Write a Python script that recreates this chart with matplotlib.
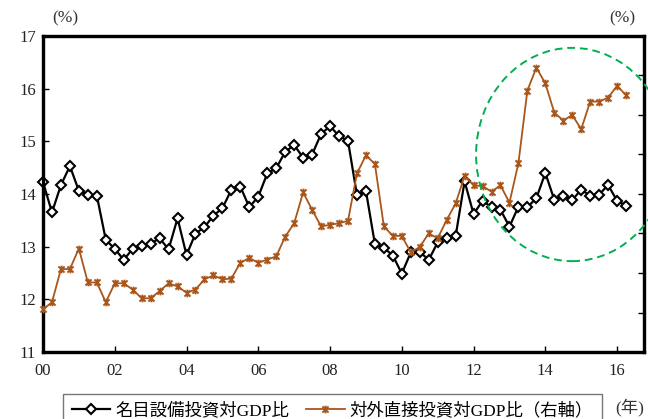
import numpy as np
import matplotlib
matplotlib.use("Agg")
import matplotlib.pyplot as plt
from matplotlib.path import Path
from matplotlib.patches import Ellipse
from matplotlib.lines import Line2D

plt.rcParams['font.family'] = ['Liberation Serif', 'Noto Sans CJK JP']

# Quarterly data, 2000Q1 - 2016Q2
start_year = 2000
capex_gdp = [  # 名目設備投資対GDP比 (left axis, %)
    14.23, 13.65, 14.17, 14.53,
    14.06, 13.99, 13.97, 13.13,
    12.96, 12.75, 12.96, 13.01,
    13.06, 13.16, 12.95, 13.54,
    12.84, 13.25, 13.37, 13.59,
    13.73, 14.08, 14.14, 13.75,
    13.95, 14.39, 14.49, 14.80,
    14.93, 14.69, 14.75, 15.14,
    15.29, 15.10, 15.01, 13.98,
    14.06, 13.05, 12.98, 12.83,
    12.49, 12.89, 12.90, 12.75,
    13.08, 13.17, 13.20, 14.24,
    13.62, 13.87, 13.75, 13.70,
    13.38, 13.76, 13.75, 13.92,
    14.40, 13.89, 13.97, 13.89,
    14.08, 13.97, 13.99, 14.17,
    13.87, 13.78,
]
fdi_gdp = [  # 対外直接投資対GDP比 (right axis)
    5.4, 6.3, 10.5, 10.5,
    13.1, 8.8, 8.8, 6.3,
    8.7, 8.7, 7.9, 6.8,
    6.8, 7.7, 8.7, 8.3,
    7.5, 7.9, 9.2, 9.7,
    9.2, 9.3, 11.3, 11.9,
    11.3, 11.7, 12.1, 14.6,
    16.3, 20.2, 18.0, 15.9,
    16.1, 16.3, 16.6, 22.6,
    24.9, 23.8, 15.9, 14.7,
    14.7, 12.6, 13.3, 15.0,
    14.4, 16.7, 18.8, 22.3,
    21.1, 21.0, 20.3, 21.1,
    18.9, 23.9, 33.1, 36.0,
    34.0, 30.3, 29.3, 30.0,
    28.2, 31.7, 31.7, 32.2,
    33.7, 32.5,
]
tick_years = [2000, 2002, 2004, 2006, 2008, 2010, 2012, 2014, 2016]
tick_labels = ['00', '02', '04', '06', '08', '10', '12', '14', '16']
left_ticks = [11, 12, 13, 14, 15, 16, 17]
right_ticks = [0, 5, 10, 15, 20, 25, 30, 35, 40]

x = start_year + np.arange(len(capex_gdp)) * 0.25

W, H = 648, 419
fig = plt.figure(figsize=(W / 100, H / 100), dpi=100)
ax = fig.add_axes([43 / W, 1 - 352 / H, (644 - 43) / W, (352 - 36) / H])
ax2 = ax.twinx()

orange = '#A9561B'
star = Path([(-1, -1), (1, 1), (-1, 1), (1, -1), (0, -1.25), (0, 1.25)],
            [Path.MOVETO, Path.LINETO, Path.MOVETO, Path.LINETO, Path.MOVETO, Path.LINETO])

l1, = ax.plot(x, capex_gdp, color='black', lw=1.6, marker='D', ms=5.5,
              mfc='white', mec='black', mew=1.5, zorder=3, clip_on=False)
l2, = ax2.plot(x, fdi_gdp, color=orange, lw=1.3, marker=star, ms=5.5,
               mec=orange, mew=1.4, zorder=3, clip_on=False)

ax.set_xlim(2000, 2016.75)
ax.set_ylim(11, 17)
ax2.set_ylim(0, 40)
ax.set_xticks(tick_years)
ax.set_xticklabels(tick_labels)
ax.set_yticks(left_ticks)
ax2.set_yticks(right_ticks)
ax2.set_yticklabels([])

for a in (ax, ax2):
    for s in a.spines.values():
        s.set_linewidth(2.3)
        s.set_color('black')
ax.tick_params(axis='both', direction='in', length=4, width=1, labelsize=12,
               colors='black', labelcolor='#222222')
ax.tick_params(axis='x', pad=8)
ax.tick_params(axis='y', pad=5)
ax2.tick_params(axis='y', direction='in', length=4, width=1)

# highlight of the recent period
ell = Ellipse((2014.75, 14.75), 5.36, 4.05, transform=ax.transData,
              fill=False, ls=(0, (4, 2.5)), lw=1.4, ec='#00B050',
              clip_on=False, zorder=5)
ax2.add_patch(ell)

fig.text(65 / W, 1 - 18 / H, '(%)', ha='center', va='center', fontsize=12.5, color='#333333')
fig.text(622 / W, 1 - 18 / H, '(%)', ha='center', va='center', fontsize=12.5, color='#333333')
fig.text(630 / W, 1 - 407 / H, '(年)', ha='center', va='center', fontsize=12.5, color='#333333')

handles = [
    Line2D([], [], color='black', lw=1.6, marker='D', ms=5.5, mfc='white', mec='black', mew=1.5),
    Line2D([], [], color=orange, lw=1.3, marker=star, ms=5.5, mec=orange, mew=1.4),
]
leg = fig.legend(handles, ['名目設備投資対GDP比', '対外直接投資対GDP比（右軸）'],
                 loc='upper left', bbox_to_anchor=(63 / W, 1 - 394 / H), ncol=2,
                 fontsize=12.5, frameon=True, fancybox=False, edgecolor='#555555',
                 handlelength=2.2, handletextpad=0.3, columnspacing=1.0,
                 borderpad=0.5, borderaxespad=0)
leg.get_frame().set_linewidth(1.0)

fig.savefig('out.png', dpi=100)
